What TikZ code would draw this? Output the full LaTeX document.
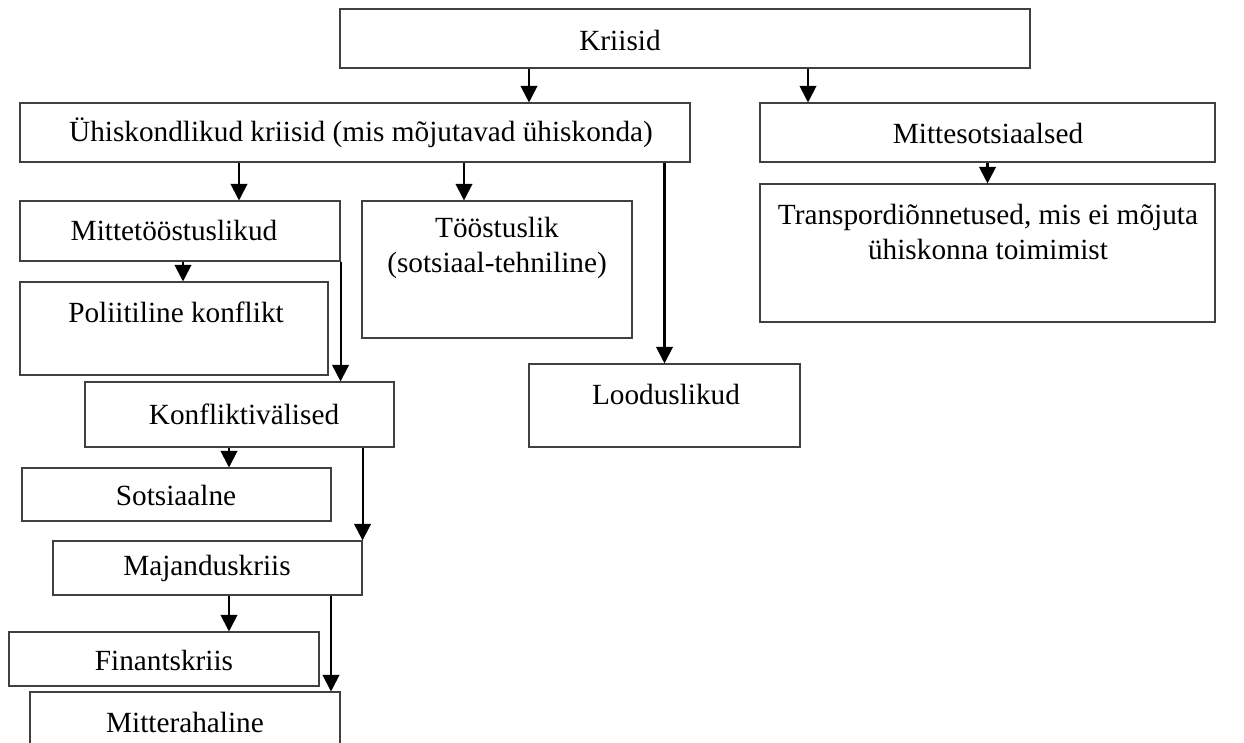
\documentclass[tikz,border=0pt]{standalone}
\usepackage{fontspec}
\setmainfont{Liberation Serif}
\usetikzlibrary{arrows.meta,fit}

\definecolor{boxgray}{gray}{0.25}
\tikzset{
  box/.style={draw=boxgray, line width=0.45pt, inner sep=0pt},
  txt/.style={font=\fontsize{12}{14.5}\selectfont, align=center, inner sep=0pt},
  arr/.style={line width=0.85pt, -{Triangle[width=6.8pt,length=6.8pt]}}
}

\begin{document}
\begin{tikzpicture}[x=0.41pt, y=-0.41pt]
\useasboundingbox (0,0) rectangle (1244,742);
\clip (0,0) rectangle (1244,742);

% boxes
\node[box, fit={(340,9) (1030,68)}] (kriisid) {};
\node[box, fit={(20,103) (690,162)}] (uhisk) {};
\node[box, fit={(760,103) (1215,162)}] (mittesots) {};
\node[box, fit={(760,184) (1215,322)}] (transp) {};
\node[box, fit={(20,201) (340,261)}] (mittet) {};
\node[box, fit={(362,201) (632,338)}] (toost) {};
\node[box, fit={(20,282) (328,375)}] (poliit) {};
\node[box, fit={(529,364) (800,447)}] (loodus) {};
\node[box, fit={(85,382) (394,447)}] (konflikt) {};
\node[box, fit={(22,468) (331,521)}] (sots) {};
\node[box, fit={(53,541) (362,595)}] (majand) {};
\node[box, fit={(9,632) (319,686)}] (finants) {};
\node[box, fit={(30,692) (340,752)}] (mitterah) {};

% texts
\node[txt] (kriisidtxt) at (620,40) {Kriisid};
\node[txt] (uhisktxt) at (361,133) {Ühiskondlikud kriisid (mis mõjutavad ühiskonda)};
\node[txt] (mittesotstxt) at (988,133) {Mittesotsiaalsed};
\node[txt] (transptxt) at (988,232) {Transpordiõnnetused, mis ei mõjuta\\ühiskonna toimimist};
\node[txt] (mittettxt) at (174,230) {Mittetööstuslikud};
\node[txt] (toosttxt) at (497,248) {Tööstuslik\\(sotsiaal-tehniline)};
\node[txt] (poliittxt) at (176,312) {Poliitiline konflikt};
\node[txt] (loodustxt) at (666,394) {Looduslikud};
\node[txt] (konflikttxt) at (244,414) {Konfliktivälised};
\node[txt] (sotstxt) at (176,495) {Sotsiaalne};
\node[txt] (majandtxt) at (207,568) {Majanduskriis};
\node[txt] (finantstxt) at (164,660) {Finantskriis};
\node[txt] (mitterahtxt) at (185,722) {Mitterahaline};

% arrows
\draw[arr] (kriisid.south -| 529,0) -- (uhisk.north -| 529,0);
\draw[arr] (kriisid.south -| 808,0) -- (mittesots.north -| 808,0);
\draw[arr] (mittesots.south -| transp.north) -- (transp.north);
\draw[arr] (uhisk.south -| 239,0) -- (mittet.north -| 239,0);
\draw[arr] (uhisk.south -| 464,0) -- (toost.north -| 464,0);
\draw[arr] (uhisk.south -| loodus.north) -- (loodus.north);
\draw[arr] (mittet.south -| 183,0) -- (poliit.north -| 183,0);
\draw[arr] (mittet.south east) -- (konflikt.north -| mittet.south east);
\draw[arr] (konflikt.south -| 229,0) -- (sots.north -| 229,0);
\draw[arr] (konflikt.south -| majand.north east) -- (majand.north east);
\draw[arr] (majand.south -| 229,0) -- (finants.north -| 229,0);
\draw[arr] (majand.south -| 331,0) -- (mitterah.north -| 331,0);

\end{tikzpicture}
\end{document}
